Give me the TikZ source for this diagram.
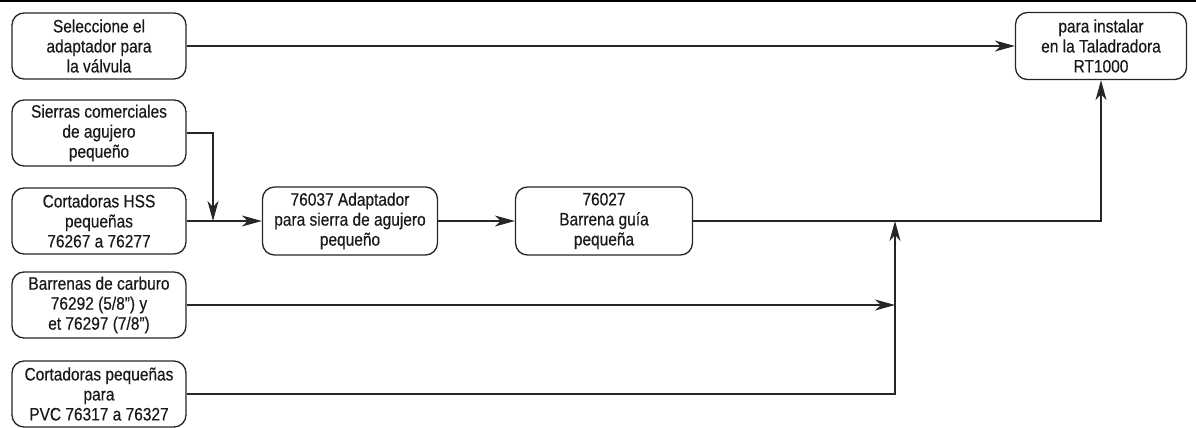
\documentclass[tikz,border=0pt]{standalone}
\usepackage{fontspec}
\setmainfont[FakeStretch=0.86,FakeBold=0.4]{Liberation Sans}
\usetikzlibrary{arrows.meta}
\begin{document}
\begin{tikzpicture}[x=1pt,y=-1pt,
  box/.style={draw=black!85,line width=1.3pt,rounded corners=12pt,minimum width=174pt,minimum height=66pt,inner sep=0pt,align=center,font=\fontsize{18}{20}\selectfont,text=black!90},
  arr/.style={line width=1.4pt,draw=black!85,-{Stealth[length=20pt,width=11pt,inset=6pt]}},
  ln/.style={line width=1.4pt,draw=black!85}]
\useasboundingbox (0,0) rectangle (1196,428);
\draw[line width=2.5pt] (0,1) -- (1196,1);
\node[box] (s1) at (99,46) {Seleccione el\\adaptador para\\la válvula};
\node[box] (s2) at (99,133) {Sierras comerciales\\de agujero\\pequeño};
\node[box] (s3) at (99,221) {Cortadoras HSS\\pequeñas\\76267 a 76277};
\node[box] (s4) at (99,305) {Barrenas de carburo\\76292 (5/8”) y\\et 76297 (7/8”)};
\node[box] (s5) at (99,394) {Cortadoras pequeñas\\para\\PVC 76317 a 76327};
\node[box,minimum width=175pt,minimum height=68pt] (a) at (350,221) {76037 Adaptador\\para sierra de agujero\\pequeño};
\node[box,minimum width=177pt,minimum height=68pt] (b) at (604,221) {76027\\Barrena guía\\pequeña};
\node[box,minimum width=171pt,minimum height=67pt] (t) at (1101,46) {para instalar\\en la Taladradora\\RT1000};
\coordinate (j1) at (213,221);
\coordinate (j2) at (895,221);
\coordinate (j3) at (895,305);
\draw[arr] (s1.east) -- (t.west);
\draw[arr] (s2.east) -| (j1);
\draw[arr] (s3.east) -- (a.west);
\draw[arr] (a.east) -- (b.west);
\draw[arr] (b.east) -| (t.south);
\draw[arr] (s4.east) -- (j3);
\draw[arr] (s5.east) -| (j2);
\end{tikzpicture}
\end{document}
